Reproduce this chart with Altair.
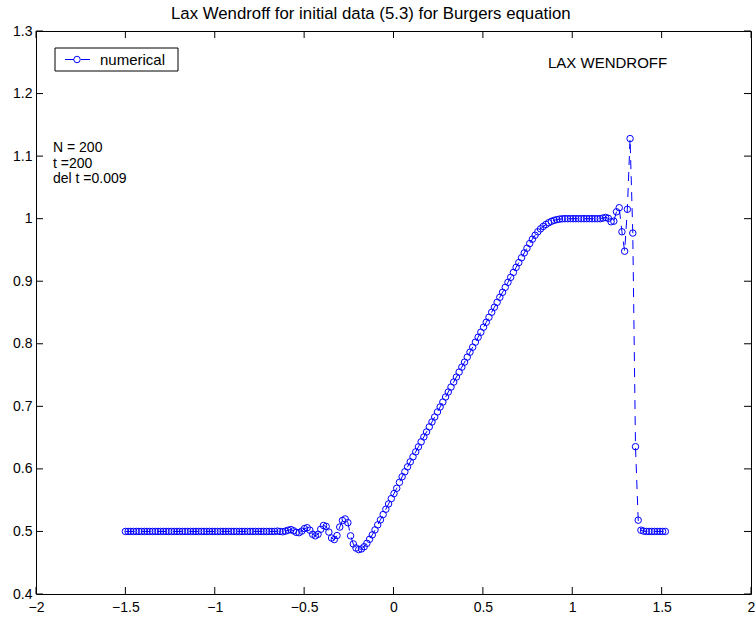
import altair as alt
import pandas as pd

# ---- data ----
x_start = -1.5
x_step = 0.01518
u_vals = [
    0.5, 0.5, 0.5, 0.5, 0.5, 0.5, 0.5, 0.5, 0.5, 0.5,
    0.5, 0.5, 0.5, 0.5, 0.5, 0.5, 0.5, 0.5, 0.5, 0.5,
    0.5, 0.5, 0.5, 0.5, 0.5, 0.5, 0.5, 0.5, 0.5, 0.5,
    0.5, 0.5, 0.5, 0.5, 0.5, 0.5, 0.5, 0.5, 0.5, 0.5,
    0.5, 0.5, 0.5, 0.5, 0.5, 0.5, 0.5, 0.5, 0.5, 0.5,
    0.5, 0.5, 0.5, 0.5, 0.5, 0.5, 0.5005, 0.5, 0.4995, 0.5005,
    0.502, 0.503, 0.501, 0.4985, 0.498, 0.5005, 0.5045, 0.506, 0.502, 0.4955,
    0.493, 0.4955, 0.5035, 0.5095, 0.508, 0.499, 0.4895, 0.487, 0.4935, 0.507,
    0.5175, 0.520, 0.514, 0.493, 0.480, 0.4735, 0.471, 0.472, 0.4755, 0.481,
    0.4875, 0.4945, 0.5025, 0.5105, 0.5185, 0.527, 0.5355, 0.544, 0.5525, 0.5605,
    0.569, 0.5785, 0.5874, 0.5954, 0.6033, 0.6113, 0.6193, 0.6272, 0.6352, 0.6432,
    0.6511, 0.6591, 0.6671, 0.6750, 0.6830, 0.6910, 0.6990, 0.7069, 0.7149, 0.7229,
    0.7308, 0.7388, 0.7468, 0.7547, 0.7627, 0.7707, 0.7787, 0.7866, 0.7946, 0.8026,
    0.8105, 0.8185, 0.8265, 0.8344, 0.8424, 0.8504, 0.8584, 0.8663, 0.8743, 0.8823,
    0.8902, 0.8982, 0.9062, 0.9141, 0.9221, 0.9298, 0.9375, 0.9452, 0.9528, 0.9602,
    0.9672, 0.9735, 0.9790, 0.9837, 0.9876, 0.9908, 0.9935, 0.9957, 0.9973, 0.9985,
    0.9993, 0.9998, 1.0, 1.0, 1.0, 1.0, 1.0, 1.0, 1.0, 1.0,
    1.0, 1.0, 1.0, 1.0, 1.0, 1.0, 1.001, 1.002, 1.0005, 0.995,
    0.996, 1.011, 1.0175, 0.979, 0.948, 1.015, 1.128, 0.977, 0.6355, 0.518,
    0.502, 0.5005, 0.5, 0.5, 0.5, 0.5, 0.5, 0.5, 0.5, 0.5,
]
x_vals = [round(x_start + i * x_step, 5) for i in range(len(u_vals))]

x_ticks = [-2, -1.5, -1, -0.5, 0, 0.5, 1, 1.5, 2]
y_ticks = [0.4, 0.5, 0.6, 0.7, 0.8, 0.9, 1.0, 1.1, 1.2, 1.3]

title_text = "Lax Wendroff for initial data (5.3) for Burgers equation"
legend_label = "numerical"
scheme_label = "LAX WENDROFF"
info_lines = ["N = 200", "t =200", "del t =0.009"]

# ---- chart ----
W, H = 715, 563
FONT = "Liberation Sans"
BLUE = "#0000ff"
TICK = 7

df = pd.DataFrame({"x": x_vals, "u": u_vals})
xs = alt.Scale(domain=[-2, 2], nice=False, zero=False)
ys = alt.Scale(domain=[0.4, 1.3], nice=False, zero=False)

x_axis = alt.Axis(values=x_ticks, format="~g", ticks=False, domain=False, grid=False,
                  labelPadding=6, labelFontSize=14, labelFont=FONT, labelColor="black",
                  title=None, labelFlush=False)
y_axis = alt.Axis(values=y_ticks, format="~g", ticks=False, domain=False, grid=False,
                  labelPadding=4, labelFontSize=14, labelFont=FONT, labelColor="black",
                  title=None, labelFlush=False)

base = alt.Chart(df)
line = base.mark_line(color=BLUE, strokeDash=[9, 7], strokeWidth=1).encode(
    x=alt.X("x:Q", scale=xs, axis=x_axis),
    y=alt.Y("u:Q", scale=ys, axis=y_axis),
)
points = base.mark_point(shape="circle", filled=False, color=BLUE, size=42,
                         strokeWidth=1, opacity=1).encode(
    x=alt.X("x:Q", scale=xs),
    y=alt.Y("u:Q", scale=ys),
)

xt = alt.Chart(pd.DataFrame({"t": x_ticks}))
yt = alt.Chart(pd.DataFrame({"t": y_ticks}))
xtick_b = xt.mark_rule(color="black", strokeWidth=1).encode(
    x=alt.X("t:Q", scale=xs), y=alt.value(H), y2=alt.value(H - TICK))
xtick_t = xt.mark_rule(color="black", strokeWidth=1).encode(
    x=alt.X("t:Q", scale=xs), y=alt.value(0), y2=alt.value(TICK))
ytick_l = yt.mark_rule(color="black", strokeWidth=1).encode(
    y=alt.Y("t:Q", scale=ys), x=alt.value(0), x2=alt.value(TICK))
ytick_r = yt.mark_rule(color="black", strokeWidth=1).encode(
    y=alt.Y("t:Q", scale=ys), x=alt.value(W), x2=alt.value(W - TICK))

one = alt.Chart(pd.DataFrame({"a": [0]}))

title = one.mark_text(text=title_text, font=FONT, fontSize=16.8, align="left",
                      baseline="alphabetic", color="black").encode(
    x=alt.value(135), y=alt.value(-12))

leg_box = one.mark_rect(fill="white", stroke="black", strokeWidth=1).encode(
    x=alt.value(19), x2=alt.value(142), y=alt.value(17), y2=alt.value(40))
leg_line = one.mark_rule(color=BLUE, strokeWidth=1, strokeDash=[9, 7]).encode(
    x=alt.value(29), x2=alt.value(54), y=alt.value(28.5))
leg_pt = one.mark_point(shape="circle", filled=False, color=BLUE, size=42,
                        strokeWidth=1, opacity=1).encode(
    x=alt.value(41), y=alt.value(28.5))
leg_txt = one.mark_text(text=legend_label, font=FONT, fontSize=15, align="left",
                        baseline="middle", color="black").encode(
    x=alt.value(64), y=alt.value(28.5))

scheme = one.mark_text(text=scheme_label, font=FONT, fontSize=15, align="left",
                       baseline="middle", color="black").encode(
    x=alt.value(512), y=alt.value(32))

info = [
    one.mark_text(text=t, font=FONT, fontSize=14, align="left", baseline="middle",
                  color="black").encode(x=alt.value(17), y=alt.value(117 + 15.5 * k))
    for k, t in enumerate(info_lines)
]

chart = alt.layer(
    line, points, xtick_b, xtick_t, ytick_l, ytick_r,
    title, leg_box, leg_line, leg_pt, leg_txt, scheme, *info
).properties(
    width=W, height=H,
    autosize=alt.AutoSizeParams(type="none"),
    padding={"left": 36, "top": 31, "right": 4, "bottom": 26},
    background="white",
).configure_view(stroke="black", strokeWidth=1)

chart.save("out.html", embed_options={"renderer": "svg", "actions": False})
